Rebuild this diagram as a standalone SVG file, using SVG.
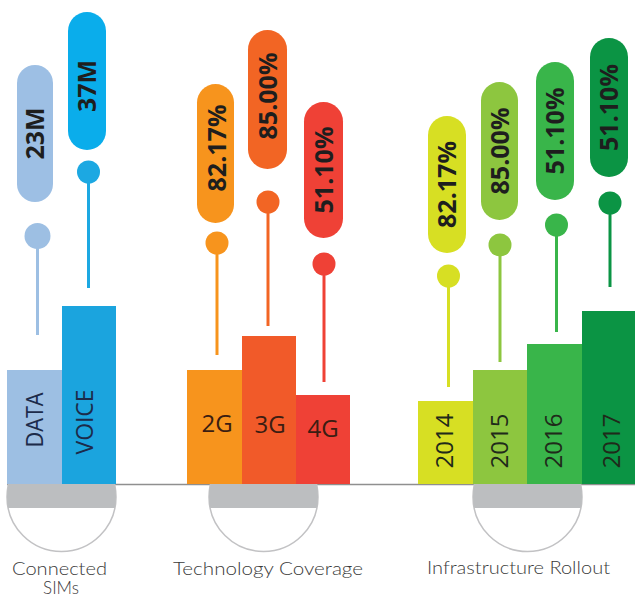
<svg xmlns="http://www.w3.org/2000/svg" width="635" height="597" viewBox="0 0 635 597">
<defs>
<style>
.pt{font-family:"Open Sans","Liberation Sans",sans-serif;font-weight:700;font-size:25px;fill:#1e1e1e;text-anchor:middle}
.bt{font-family:"Open Sans","Liberation Sans",sans-serif;font-weight:400;font-size:24px;text-anchor:middle}
.lb{font-family:"Lato","Open Sans","Liberation Sans",sans-serif;font-weight:300;font-size:17px;fill:#3a3a3a;text-anchor:middle}
.stem{stroke-width:3;fill:none}
.base{fill:#fff;stroke:#c2c2c4;stroke-width:1.5}
.band{fill:#bcbec0}
</style>
<clipPath id="c1"><circle cx="61.5" cy="497" r="54.5"/></clipPath>
<clipPath id="c2"><circle cx="263.5" cy="497" r="54.5"/></clipPath>
<clipPath id="c3"><circle cx="527.5" cy="497" r="54.5"/></clipPath>
</defs>
<rect width="635" height="597" fill="#fff"/>

<!-- baseline -->
<line x1="7" y1="484.5" x2="635" y2="484.5" stroke="#8f8f8f" stroke-width="1.5"/>

<!-- bases -->
<g id="base-sims">
<circle class="base" cx="61.5" cy="497" r="54.5"/>
<rect class="band" x="7" y="484" width="109" height="24" clip-path="url(#c1)"/>
</g>
<g id="base-tech">
<circle class="base" cx="263.5" cy="497" r="54.5"/>
<rect class="band" x="209" y="484" width="109" height="24" clip-path="url(#c2)"/>
</g>
<g id="base-infra">
<circle class="base" cx="527.5" cy="497" r="54.5"/>
<rect class="band" x="473" y="484" width="109" height="24" clip-path="url(#c3)"/>
</g>

<!-- connectors (stems) -->
<g id="connectors">
<line class="stem" x1="37.5" y1="236" x2="37.5" y2="335" stroke="#9dbfe3"/>
<line class="stem" x1="88.5" y1="172" x2="88.5" y2="288" stroke="#1ca8e2"/>
<line class="stem" x1="217" y1="243" x2="217" y2="355" stroke="#f7941d"/>
<line class="stem" x1="268" y1="202" x2="268" y2="326" stroke="#f26524"/>
<line class="stem" x1="324" y1="264" x2="324" y2="382" stroke="#ef4136"/>
<line class="stem" x1="448.5" y1="276" x2="448.5" y2="387" stroke="#d7df23"/>
<line class="stem" x1="500" y1="245" x2="500" y2="362" stroke="#8dc63f"/>
<line class="stem" x1="556.5" y1="225" x2="556.5" y2="332" stroke="#39b54a"/>
<line class="stem" x1="610" y1="203" x2="610" y2="287" stroke="#0b9444"/>
</g>

<!-- Connected SIMs -->
<g id="data">
<rect x="17" y="65" width="36" height="137" rx="18" fill="#9dbfe4"/>
<text class="pt" transform="translate(35,133.5) rotate(-90)" dy="0.36em" fill="#1c2638">23M</text>
<circle cx="37.5" cy="236" r="13" fill="#9dbfe3"/>
<rect x="7" y="370" width="55" height="114" fill="#9dbfe3"/>
<text class="bt" transform="translate(34,420) rotate(-90)" dy="0.36em" fill="#1c2b4a" textLength="55" lengthAdjust="spacingAndGlyphs">DATA</text>
</g>
<g id="voice">
<rect x="68" y="12" width="38" height="138" rx="19" fill="#0aadeb"/>
<text class="pt" transform="translate(87,86) rotate(-90)" dy="0.36em">37M</text>
<circle cx="88.5" cy="172" r="11.5" fill="#1ca8e2"/>
<rect x="62" y="306" width="54" height="178" fill="#1ba4de"/>
<text class="bt" transform="translate(84,422) rotate(-90)" dy="0.36em" fill="#1c2b4a" textLength="65" lengthAdjust="spacingAndGlyphs">VOICE</text>
</g>

<!-- Technology Coverage -->
<g id="tech-2g">
<rect x="197" y="84" width="37" height="139" rx="18.5" fill="#f7941d"/>
<text class="pt" transform="translate(216.5,148) rotate(-90)" dy="0.36em">82.17%</text>
<circle cx="217" cy="243" r="11.5" fill="#f7941d"/>
<rect x="187" y="370" width="55" height="114" fill="#f7941d"/>
<text class="bt" x="217" y="432" fill="#3b1d12">2G</text>
</g>
<g id="tech-3g">
<rect x="248" y="30" width="39" height="139" rx="19.5" fill="#f26524"/>
<text class="pt" transform="translate(267.5,96) rotate(-90)" dy="0.36em">85.00%</text>
<circle cx="268" cy="202" r="11.5" fill="#f26524"/>
<rect x="242" y="336" width="54" height="148" fill="#f15a29"/>
<text class="bt" x="270" y="433" fill="#3b1d12">3G</text>
</g>
<g id="tech-4g">
<rect x="304" y="102" width="39" height="136" rx="19.5" fill="#ef4136"/>
<text class="pt" transform="translate(323.5,170) rotate(-90)" dy="0.36em">51.10%</text>
<circle cx="324" cy="264" r="11.5" fill="#ef4136"/>
<rect x="296" y="395" width="54" height="89" fill="#ef4136"/>
<text class="bt" x="323" y="437" fill="#3b1d12">4G</text>
</g>

<!-- Infrastructure Rollout -->
<g id="infra-2014">
<rect x="428" y="116" width="38" height="137" rx="19" fill="#d7df23"/>
<text class="pt" transform="translate(447,184.5) rotate(-90)" dy="0.36em">82.17%</text>
<circle cx="448.5" cy="276" r="11.5" fill="#d7df23"/>
<rect x="418" y="401" width="55" height="83" fill="#d7df23"/>
<text class="bt" transform="translate(444,441) rotate(-90)" dy="0.36em" fill="#1f2a1a" font-size="23">2014</text>
</g>
<g id="infra-2015">
<rect x="481" y="82" width="37" height="138" rx="18.5" fill="#8dc63f"/>
<text class="pt" transform="translate(499.5,151) rotate(-90)" dy="0.36em">85.00%</text>
<circle cx="500" cy="245" r="11.5" fill="#8dc63f"/>
<rect x="473" y="370" width="54" height="114" fill="#8dc63f"/>
<text class="bt" transform="translate(499,441) rotate(-90)" dy="0.36em" fill="#1f2a1a" font-size="23">2015</text>
</g>
<g id="infra-2016">
<rect x="536" y="62" width="38" height="138" rx="19" fill="#39b54a"/>
<text class="pt" transform="translate(555,131) rotate(-90)" dy="0.36em">51.10%</text>
<circle cx="556.5" cy="225" r="11.5" fill="#39b54a"/>
<rect x="527" y="344" width="55" height="140" fill="#39b54a"/>
<text class="bt" transform="translate(553,441) rotate(-90)" dy="0.36em" fill="#1f2a1a" font-size="23">2016</text>
</g>
<g id="infra-2017">
<rect x="590" y="38" width="38" height="139" rx="19" fill="#0b9444"/>
<text class="pt" transform="translate(609,107.5) rotate(-90)" dy="0.36em">51.10%</text>
<circle cx="610" cy="203" r="11.5" fill="#0b9444"/>
<rect x="582" y="311" width="53" height="173" fill="#0b9444"/>
<text class="bt" transform="translate(611,441) rotate(-90)" dy="0.36em" fill="#1f2a1a" font-size="23">2017</text>
</g>

<!-- group labels -->
<g id="labels">
<text class="lb" x="59.5" y="575" textLength="95" lengthAdjust="spacingAndGlyphs">Connected</text>
<text class="lb" x="61" y="594">SIMs</text>
<text class="lb" x="268" y="575" textLength="190" lengthAdjust="spacingAndGlyphs">Technology Coverage</text>
<text class="lb" x="518.5" y="574" textLength="183" lengthAdjust="spacingAndGlyphs">Infrastructure Rollout</text>
</g>
</svg>
